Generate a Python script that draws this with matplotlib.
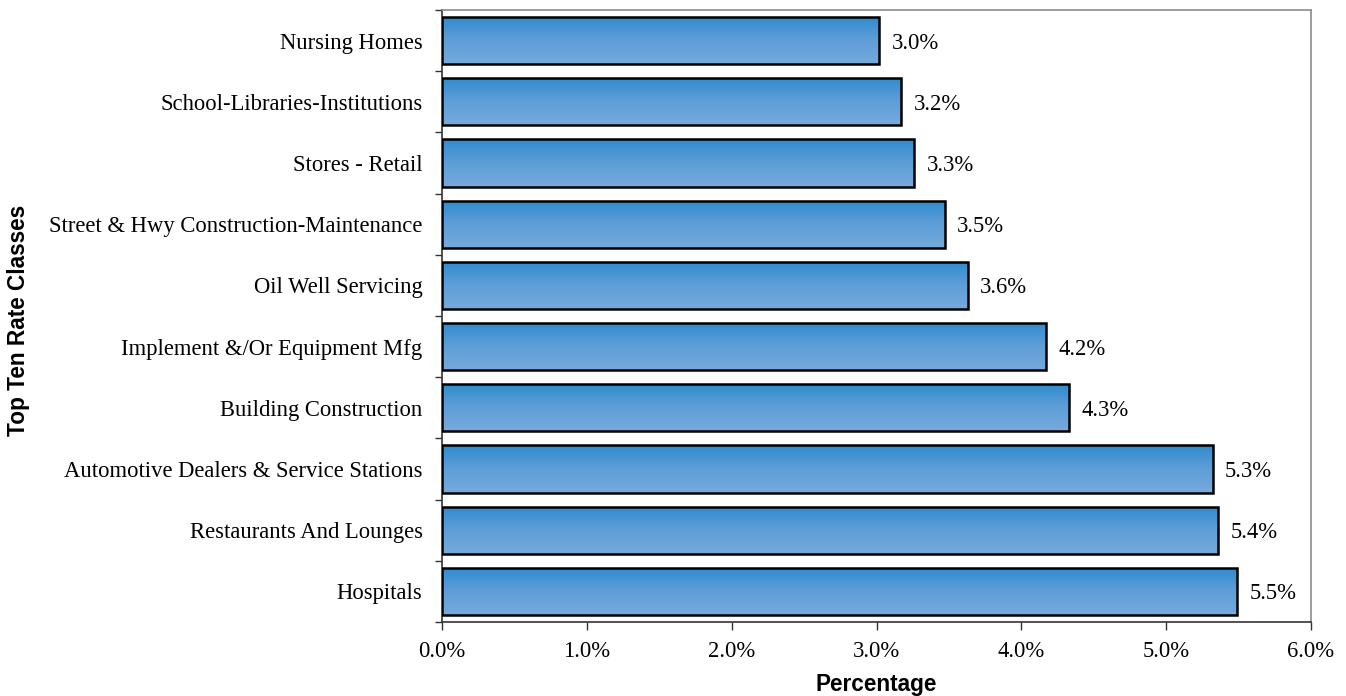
import matplotlib
matplotlib.use("Agg")
import matplotlib.pyplot as plt
import numpy as np
from matplotlib.colors import LinearSegmentedColormap
from matplotlib.ticker import FixedLocator

categories = ["Hospitals", "Restaurants And Lounges", "Automotive Dealers & Service Stations",
              "Building Construction", "Implement &/Or Equipment Mfg", "Oil Well Servicing",
              "Street & Hwy Construction-Maintenance", "Stores - Retail",
              "School-Libraries-Institutions", "Nursing Homes"]
values = [5.49, 5.36, 5.32, 4.33, 4.17, 3.63, 3.47, 3.26, 3.17, 3.02]
labels = ["5.5%", "5.4%", "5.3%", "4.3%", "4.2%", "3.6%", "3.5%", "3.3%", "3.2%", "3.0%"]
xticks = [0, 1, 2, 3, 4, 5, 6]
xticklabels = ["0.0%", "1.0%", "2.0%", "3.0%", "4.0%", "5.0%", "6.0%"]

serif = ["Liberation Serif", "DejaVu Serif"]
sans = ["Liberation Sans", "DejaVu Sans"]
FS = 16.3

fig = plt.figure(figsize=(13.46, 6.96), dpi=100)
ax = fig.add_axes([442/1346, 1 - 622/696, (1311-442)/1346, (622-10)/696])

y = np.arange(len(categories))
bars = ax.barh(y, values, height=0.77, color="none", edgecolor="black", linewidth=1.8, zorder=3)

cmap = LinearSegmentedColormap.from_list("g", ["#2F8BCE", "#5E9ED8", "#76AADC"])
grad = np.linspace(0, 1, 256).reshape(-1, 1)
for b in bars:
    x0, y0 = b.get_x(), b.get_y()
    w, h = b.get_width(), b.get_height()
    im = ax.imshow(grad, cmap=cmap, aspect="auto", extent=[x0, x0 + w, y0, y0 + h],
                   origin="upper", zorder=2, interpolation="bilinear")
    im.set_clip_path(b)

ax.set_xlim(0, 6)
ax.set_ylim(-0.5, len(categories) - 0.5)

for yi, v, lab in zip(y, values, labels):
    ax.text(v + 0.085, yi, lab, va="center_baseline", ha="left", fontsize=FS, family=serif)

ax.set_xticks(xticks)
ax.set_xticklabels(xticklabels, family=serif, fontsize=FS)
ax.set_yticks(y)
ax.set_yticklabels(categories, family=serif, fontsize=FS)
ax.yaxis.set_major_locator(FixedLocator(y))
for t in ax.get_yticklabels():
    t.set_va("center_baseline")
ax.set_yticks(np.arange(-0.5, len(categories), 1), minor=True)
ax.tick_params(axis="y", which="major", length=0, pad=14)
ax.tick_params(axis="y", which="minor", length=5, width=1, direction="out", color="#333333")
ax.tick_params(axis="x", which="major", length=6, width=1, direction="out", pad=8, color="#333333")

for s in ["left", "bottom"]:
    ax.spines[s].set_color("#333333")
    ax.spines[s].set_linewidth(1.2)
for s in ["top", "right"]:
    ax.spines[s].set_color("#8C8C8C")
    ax.spines[s].set_linewidth(1.2)

ax.set_xlabel("Percentage", family=sans, fontsize=FS, fontweight="bold")
ax.xaxis.label.set_va("center")
ax.xaxis.set_label_coords(0.5, -(685 - 622) / (622 - 10))
ax.set_ylabel("Top Ten Rate Classes", family=sans, fontsize=FS, fontweight="bold")
ax.yaxis.label.set_va("center")
ax.yaxis.set_label_coords(-(442 - 19) / (1311 - 442), (622 - 320) / (622 - 10))

fig.savefig("out.png", dpi=100)
